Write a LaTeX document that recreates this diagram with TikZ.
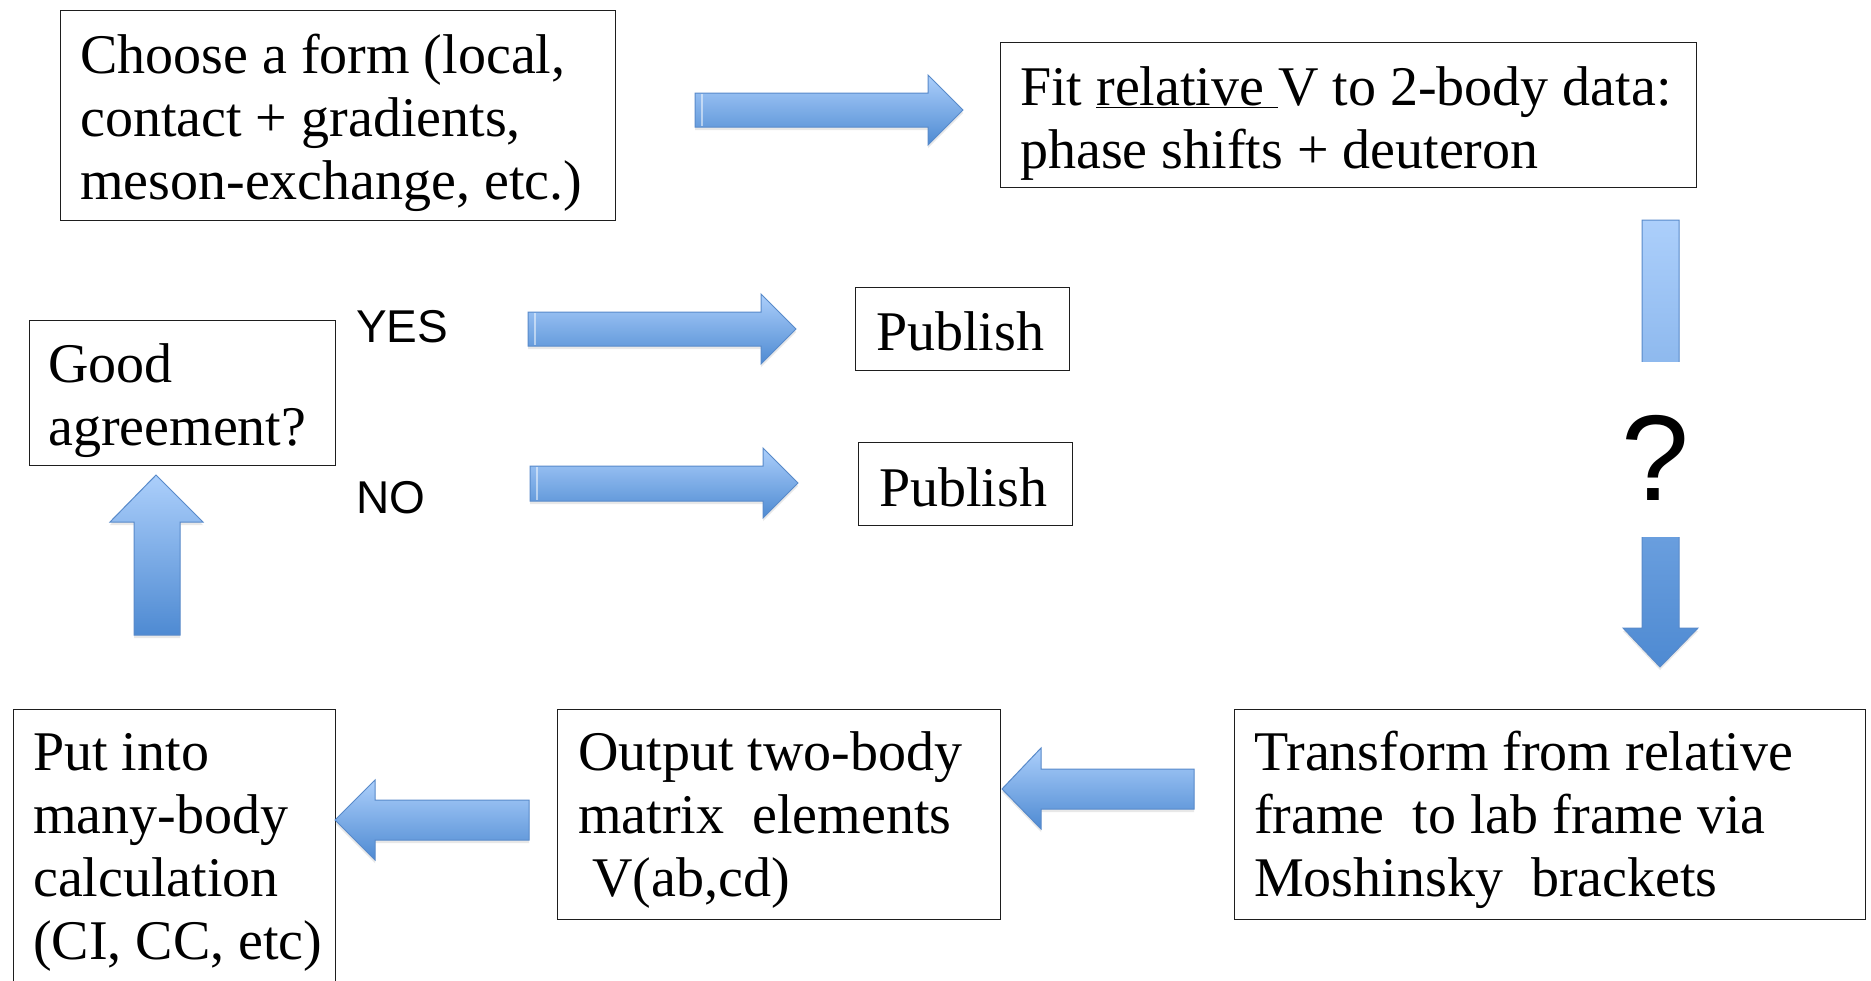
\documentclass[tikz,border=0pt]{standalone}
\usepackage{fontspec}
\setmainfont{Liberation Serif}
\newfontfamily\labelsans{Liberation Sans}
\usetikzlibrary{shadows}
\definecolor{arrowlight}{RGB}{172,207,251}
\definecolor{arrowdark}{RGB}{78,138,210}
\definecolor{arrowedge}{RGB}{88,138,202}
\definecolor{boxline}{RGB}{30,30,30}
\begin{document}
\begin{tikzpicture}[x=1pt,y=-1pt,
  box/.style={draw=boxline, line width=1.4pt, inner sep=0pt, anchor=north west},
  boxtext/.style={font=\fontsize{56}{63}\selectfont, align=left, text width=700pt, inner sep=0pt, anchor=base west,
    execute at begin node={\spaceskip=0.25em\relax}},
  yesno/.style={font=\labelsans\fontsize{46}{50}\selectfont, inner sep=0pt, anchor=base west},
  blockarrow/.style={draw=arrowedge, line width=1pt, top color=arrowlight, bottom color=arrowdark, line join=miter,
    drop shadow={shadow xshift=0pt, shadow yshift=-3pt, opacity=0.18}},
  tailstripe/.style={line width=1.6pt, draw=white, opacity=0.5},
]
\useasboundingbox (0,0) rectangle (1871,980);
\fill[white] (0,0) rectangle (1871,980);

% boxes
\node[box, minimum width=555, minimum height=210] (choose) at (60,10) {};
\node[boxtext] (chooset) at (80,73) {Choose a form (local,\\contact + gradients,\\meson-exchange, etc.)};

\node[box, minimum width=696, minimum height=145] (fit) at (1000,42) {};
\node[boxtext] (fitt) at (1020,105) {Fit \underline{relative\ }V to 2-body data:\\phase shifts + deuteron};

\node[box, minimum width=306, minimum height=145] (good) at (29,320) {};
\node[boxtext] (goodt) at (48,382) {Good\\agreement?};

\node[box, minimum width=214, minimum height=83] (pub1) at (855,287) {};
\node[boxtext] (pub1t) at (876,350) {Publish};

\node[box, minimum width=214, minimum height=83] (pub2) at (858,442) {};
\node[boxtext] (pub2t) at (879,506) {Publish};

\node[box, minimum width=322, minimum height=320] (put) at (13,709) {};
\node[boxtext] (putt) at (33,770) {Put into\\many-body\\calculation\\(CI, CC, etc)};

\node[box, minimum width=443, minimum height=210] (out) at (557,709) {};
\node[boxtext] (outt) at (578,770) {Output two-body\\matrix\ \ elements\\\hspace*{0.25em}V(ab,cd)};

\node[box, minimum width=631, minimum height=210] (trans) at (1234,709) {};
\node[boxtext] (transt) at (1254,770) {Transform from relative\\frame\ \ to lab frame via\\Moshinsky\ \ brackets};

% labels
\node[yesno] (yes) at (356,342) {YES};
\node[yesno] (no) at (356,513) {NO};

% right arrows
\draw[blockarrow] (695,93) -- (928,93) -- (928,75) -- (963,110) -- (928,145) -- (928,127) -- (695,127) -- cycle;
\draw[tailstripe] (702,94) -- (702,126);
\draw[blockarrow] (528,312) -- (761,312) -- (761,294) -- (796,329) -- (761,364) -- (761,346) -- (528,346) -- cycle;
\draw[tailstripe] (535,313) -- (535,345);
\draw[blockarrow] (530,466) -- (763,466) -- (763,448) -- (798,483) -- (763,518) -- (763,501) -- (530,501) -- cycle;
\draw[tailstripe] (537,467) -- (537,500);

% left arrows
\draw[blockarrow] (1194,769) -- (1041,769) -- (1041,748) -- (1002,789) -- (1041,829) -- (1041,809) -- (1194,809) -- cycle;
\draw[blockarrow] (529,800) -- (375,800) -- (375,780) -- (335,820) -- (375,860) -- (375,840) -- (529,840) -- cycle;

% up arrow
\draw[blockarrow] (134,635) -- (134,522) -- (110,522) -- (156,475) -- (203,522) -- (180,522) -- (180,635) -- cycle;

% vertical arrow interrupted by question mark
\draw[blockarrow] (1642,220) -- (1679,220) -- (1679,628) -- (1698,628) -- (1660,667) -- (1623,628) -- (1642,628) -- cycle;
\fill[white] (1630,362) rectangle (1692,537);
\node[font=\labelsans\fontsize{122}{130}\selectfont, inner sep=0pt, anchor=base] (q) at (1655,500) {?};
\end{tikzpicture}
\end{document}
